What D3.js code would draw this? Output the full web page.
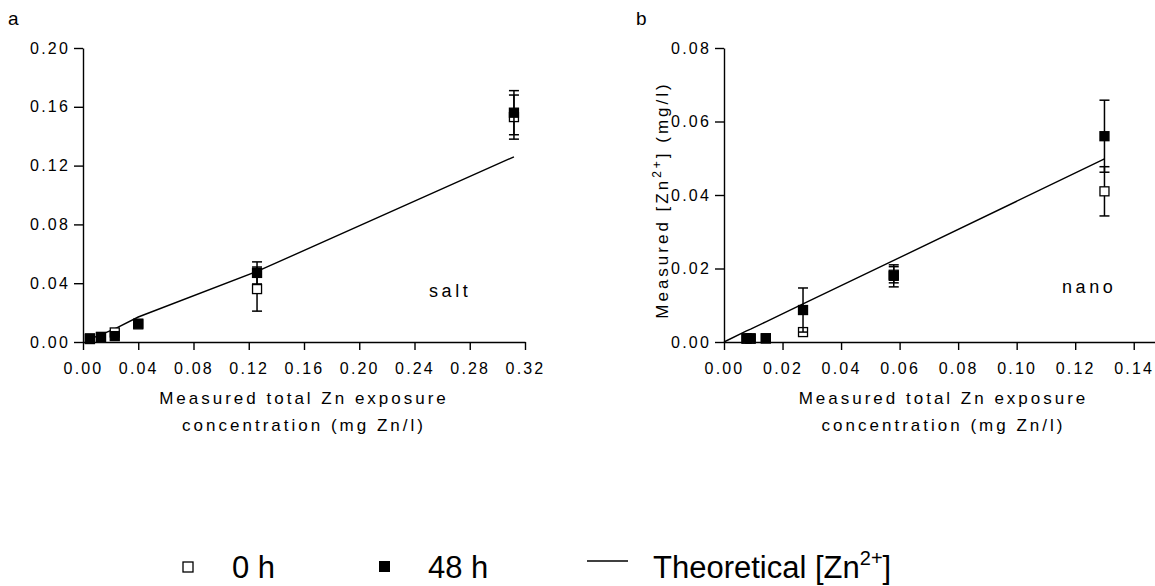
<!DOCTYPE html>
<html><head><meta charset="utf-8">
<script src="https://cdn.jsdelivr.net/npm/d3@7"></script>
<style>
body{margin:0;background:#fff}
svg{display:block}
text{font-family:"Liberation Sans",Arial,sans-serif;fill:#000}
</style>
</head><body>
<svg id="c" width="1155" height="586"></svg>
<script>
// ---- Panel a (salt) ----
const saltX      = [0.005, 0.013, 0.023, 0.040, 0.126, 0.312];
const salt0h     = [0.0025, 0.003, 0.0065, 0.012, 0.036, 0.153];
const salt0hErr  = [0, 0, 0, 0, 0.015, 0.015];
const salt48h    = [0.002, 0.0035, 0.004, 0.0125, 0.047, 0.156];
const salt48hErr = [0, 0, 0, 0, 0.0075, 0.015];
const saltTheoX  = [0.005, 0.013, 0.023, 0.040, 0.126, 0.312];
const saltTheo   = [0.002, 0.005, 0.009, 0.017, 0.048, 0.126];
const saltXTicks = [0, 0.04, 0.08, 0.12, 0.16, 0.20, 0.24, 0.28, 0.32];
const saltYTicks = [0, 0.04, 0.08, 0.12, 0.16, 0.20];

// ---- Panel b (nano) ----
const nanoX      = [0.0077, 0.0091, 0.0143, 0.027, 0.058, 0.130];
const nano0h     = [0.0009, 0.0009, 0.001, 0.0027, 0.0183, 0.041];
const nano0hErr  = [0, 0, 0, 0.0008, 0.0022, 0.0067];
const nano48h    = [0.001, 0.001, 0.001, 0.0087, 0.018, 0.056];
const nano48hErr = [0, 0, 0, 0.006, 0.003, 0.0098];
const nanoTheoX  = [0, 0.0077, 0.0091, 0.0143, 0.027, 0.058, 0.130];
const nanoTheo   = [0, 0.003, 0.0035, 0.0055, 0.0104, 0.0222, 0.0498];
const nanoXTicks = [0, 0.02, 0.04, 0.06, 0.08, 0.10, 0.12, 0.14];
const nanoYTicks = [0, 0.02, 0.04, 0.06, 0.08];

const legendLabels = ["0 h", "48 h", "Theoretical [Zn", "2+", "]"];
const xTitle1 = "Measured total Zn exposure";
const xTitle2 = "concentration (mg Zn/l)";

const svg = d3.select("#c");
const fmt = d3.format(".2f");

function panel(cfg) {
  const x = d3.scaleLinear().domain(cfg.xDomain).range(cfg.xRange);
  const y = d3.scaleLinear().domain(cfg.yDomain).range([342, 48]);
  const g = svg.append("g");

  const xa = g.append("g").attr("transform", "translate(0,342)")
    .call(d3.axisBottom(x).tickValues(cfg.xTicks).tickFormat(fmt)
      .tickSize(8).tickSizeOuter(0).tickPadding(13));
  const ya = g.append("g").attr("transform", `translate(${cfg.xRange[0]},0)`)
    .call(d3.axisLeft(y).tickValues(cfg.yTicks).tickFormat(fmt)
      .tickSize(9).tickSizeOuter(0).tickPadding(4));
  [xa, ya].forEach(a => {
    a.selectAll("path,line").attr("stroke", "#000").attr("stroke-width", 1.4);
    a.selectAll("text").attr("font-family", '"Liberation Sans",Arial,sans-serif')
      .attr("font-size", 16).style("letter-spacing", "2.2px").attr("fill", "#000");
  });

  g.append("path")
    .datum(cfg.theoX.map((d, i) => [d, cfg.theo[i]]))
    .attr("fill", "none").attr("stroke", "#000").attr("stroke-width", 1.4)
    .attr("d", d3.line().x(d => x(d[0])).y(d => y(d[1])));

  const cap = 5, half = 4.5;
  function series(vals, errs, filled) {
    const data = cfg.xs.map((d, i) => ({x: d, y: vals[i], e: errs[i]}));
    const eb = g.append("g").attr("stroke", "#000").attr("stroke-width", 1.5);
    data.filter(d => d.e > 0).forEach(d => {
      const cx = x(d.x);
      eb.append("line").attr("x1", cx).attr("x2", cx).attr("y1", y(d.y + d.e)).attr("y2", y(d.y - d.e));
      eb.append("line").attr("x1", cx - cap).attr("x2", cx + cap).attr("y1", y(d.y + d.e)).attr("y2", y(d.y + d.e));
      eb.append("line").attr("x1", cx - cap).attr("x2", cx + cap).attr("y1", y(d.y - d.e)).attr("y2", y(d.y - d.e));
    });
    g.append("g").selectAll("rect").data(data).join("rect")
      .attr("x", d => x(d.x) - half).attr("y", d => y(d.y) - half)
      .attr("width", half * 2).attr("height", half * 2)
      .attr("fill", filled ? "#000" : "#fff")
      .attr("stroke", "#000").attr("stroke-width", 1.3);
  }
  series(cfg.v0, cfg.e0, false);
  series(cfg.v48, cfg.e48, true);

  const cx = (cfg.xRange[0] + cfg.xRange[1]) / 2;
  g.append("text").attr("x", cx).attr("y", 404).attr("text-anchor", "middle")
    .attr("font-size", 17).style("letter-spacing", "3px").text(xTitle1);
  g.append("text").attr("x", cx).attr("y", 431).attr("text-anchor", "middle")
    .attr("font-size", 17).style("letter-spacing", "3px").text(xTitle2);
  g.append("text").attr("x", cfg.letterX).attr("y", 25).attr("font-size", 19).text(cfg.letter);
  g.append("text").attr("x", cfg.tagX).attr("y", cfg.tagY).attr("font-size", 18)
    .style("letter-spacing", "3.6px").text(cfg.tag);
  return g;
}

panel({xDomain: [0, 0.32], xRange: [83, 525], yDomain: [0, 0.2],
  xTicks: saltXTicks, yTicks: saltYTicks, xs: saltX,
  v0: salt0h, e0: salt0hErr, v48: salt48h, e48: salt48hErr,
  theoX: saltTheoX, theo: saltTheo, letter: "a", letterX: 8, tag: "salt", tagX: 429, tagY: 297});

const gb = panel({xDomain: [0, 0.15], xRange: [724, 1163], yDomain: [0, 0.08],
  xTicks: nanoXTicks, yTicks: nanoYTicks, xs: nanoX,
  v0: nano0h, e0: nano0hErr, v48: nano48h, e48: nano48hErr,
  theoX: nanoTheoX, theo: nanoTheo, letter: "b", letterX: 636, tag: "nano", tagX: 1062, tagY: 293});

const yt = gb.append("text").attr("transform", "translate(668,200) rotate(-90)")
  .attr("text-anchor", "middle").attr("font-size", 17).style("letter-spacing", "3px");
yt.append("tspan").text("Measured [Zn");
yt.append("tspan").attr("dy", -7).attr("font-size", 12).text("2+");
yt.append("tspan").attr("dy", 7).text("] (mg/l)");

// legend
const lg = svg.append("g");
lg.append("rect").attr("x", 183).attr("y", 562).attr("width", 10).attr("height", 10)
  .attr("fill", "#fff").attr("stroke", "#000").attr("stroke-width", 1.3);
lg.append("text").attr("x", 232).attr("y", 578).attr("font-size", 31).text(legendLabels[0]);
lg.append("rect").attr("x", 379).attr("y", 561).attr("width", 11).attr("height", 11)
  .attr("fill", "#000");
lg.append("text").attr("x", 428).attr("y", 578).attr("font-size", 31).text(legendLabels[1]);
lg.append("line").attr("x1", 587).attr("x2", 628).attr("y1", 561).attr("y2", 561)
  .attr("stroke", "#000").attr("stroke-width", 1.4);
const lt = lg.append("text").attr("x", 653).attr("y", 578).attr("font-size", 31);
lt.append("tspan").text(legendLabels[2]);
lt.append("tspan").attr("dy", -13).attr("font-size", 20).text(legendLabels[3]);
lt.append("tspan").attr("dy", 13).text(legendLabels[4]);
</script>
</body></html>
